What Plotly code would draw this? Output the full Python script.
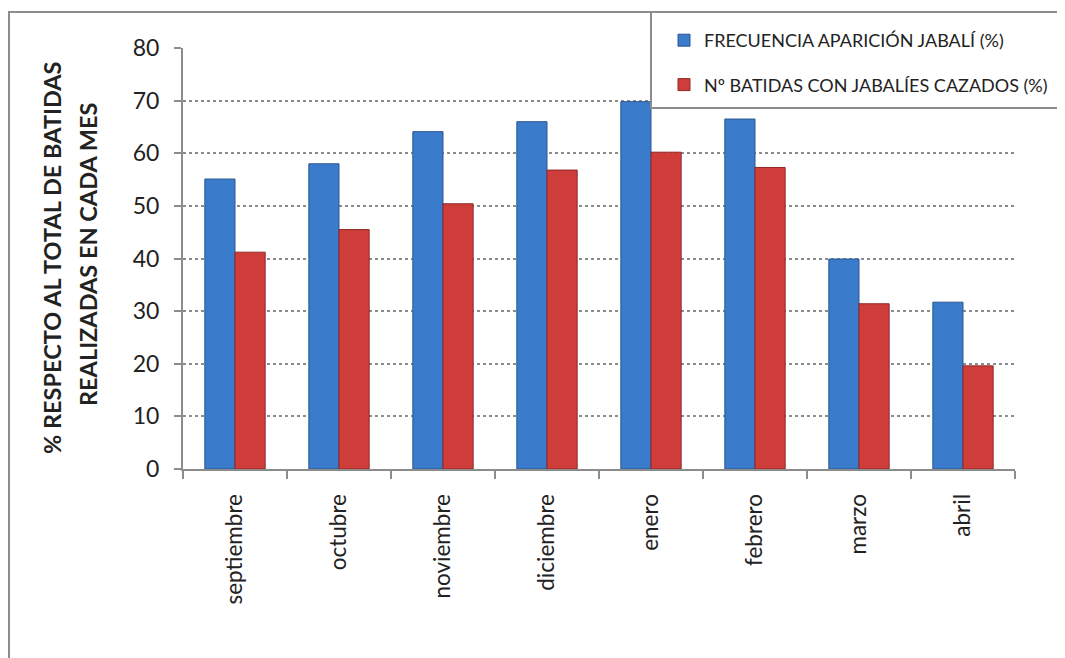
import plotly.graph_objects as go

months = ["septiembre", "octubre", "noviembre", "diciembre", "enero", "febrero", "marzo", "abril"]
frecuencia = [55.1, 58.0, 64.1, 66.0, 69.8, 66.5, 39.9, 31.7]
batidas = [41.2, 45.5, 50.4, 56.8, 60.2, 57.3, 31.4, 19.6]
series_names = ["FRECUENCIA APARICIÓN JABALÍ (%)", "Nº BATIDAS CON JABALÍES CAZADOS (%)"]
y_ticks = [0, 10, 20, 30, 40, 50, 60, 70, 80]
y_title_lines = ["% RESPECTO AL TOTAL DE BATIDAS", "REALIZADAS EN CADA MES"]

FONT = "Lato, 'Open Sans', sans-serif"
OFF = 8  # page body margin offset
W, H = 1065 - OFF, 658 - OFF
L, R, T, B = 183 - OFF, 1015 - OFF, 48 - OFF, 469 - OFF
pw, ph = R - L, B - T


def px(x):
    # x given in reference screen pixels
    return (x - OFF - L) / pw


def py(y):
    return (B - (y - OFF)) / ph


fig = go.Figure()
fig.add_trace(go.Bar(
    x=months, y=frecuencia, name=series_names[0], legendgroup="g1",
    marker=dict(color="#3b7bcc", line=dict(color="#2a5690", width=1)),
))
fig.add_trace(go.Bar(
    x=months, y=batidas, name=series_names[1], legendgroup="g2",
    marker=dict(color="#cf3d3a", line=dict(color="#8e2826", width=1)),
))

fig.update_layout(
    width=W, height=H,
    margin=dict(l=L, r=W - R, t=T, b=H - B),
    paper_bgcolor="white", plot_bgcolor="white",
    barmode="group", bargap=0.42, bargroupgap=0.0,
    font=dict(family=FONT, color="#222"),
    legend=dict(x=px(664), y=py(22), xanchor="left", yanchor="top",
                traceorder="grouped", tracegroupgap=18,
                bgcolor="rgba(0,0,0,0)", font=dict(size=18, family=FONT, color="#222")),
)

fig.update_yaxes(
    range=[0, 80], tickvals=y_ticks, ticktext=[str(v) for v in y_ticks],
    showgrid=True, gridcolor="#8c8c8c", griddash="dot", gridwidth=1.5,
    showline=True, linecolor="#8c8c8c", linewidth=2,
    ticks="outside", ticklen=7, tickcolor="#8c8c8c", tickwidth=2,
    zeroline=False, ticklabelstandoff=10,
    tickfont=dict(size=23, family=FONT, color="#222"),
)
fig.update_xaxes(
    showline=True, linecolor="#8c8c8c", linewidth=2,
    ticks="outside", ticklen=8, tickcolor="#8c8c8c", tickwidth=2,
    tickson="boundaries", tickangle=-90, ticklabelstandoff=14,
    tickfont=dict(size=22.5, family=FONT, color="#222"),
)

# outer chart border (extends beyond the visible window)
fig.add_shape(type="rect", xref="paper", yref="paper",
              x0=px(9), x1=px(1085), y0=py(680), y1=py(12),
              line=dict(color="#8c8c8c", width=2), fillcolor="rgba(0,0,0,0)", layer="below")
# legend box
fig.add_shape(type="rect", xref="paper", yref="paper",
              x0=px(651), x1=px(1085), y0=py(108), y1=py(12),
              line=dict(color="#8c8c8c", width=2), fillcolor="white", layer="above")

# y axis title (two lines)
fig.add_annotation(text="<b>" + y_title_lines[0] + "</b>", xref="paper", yref="paper",
                   x=px(52), y=py(258), xanchor="center", yanchor="middle",
                   textangle=-90, showarrow=False,
                   font=dict(size=23.5, family=FONT, color="#222"))
fig.add_annotation(text="<b>" + y_title_lines[1] + "</b>", xref="paper", yref="paper",
                   x=px(88), y=py(255), xanchor="center", yanchor="middle",
                   textangle=-90, showarrow=False,
                   font=dict(size=23.5, family=FONT, color="#222"))

fig.write_html("out.html")
